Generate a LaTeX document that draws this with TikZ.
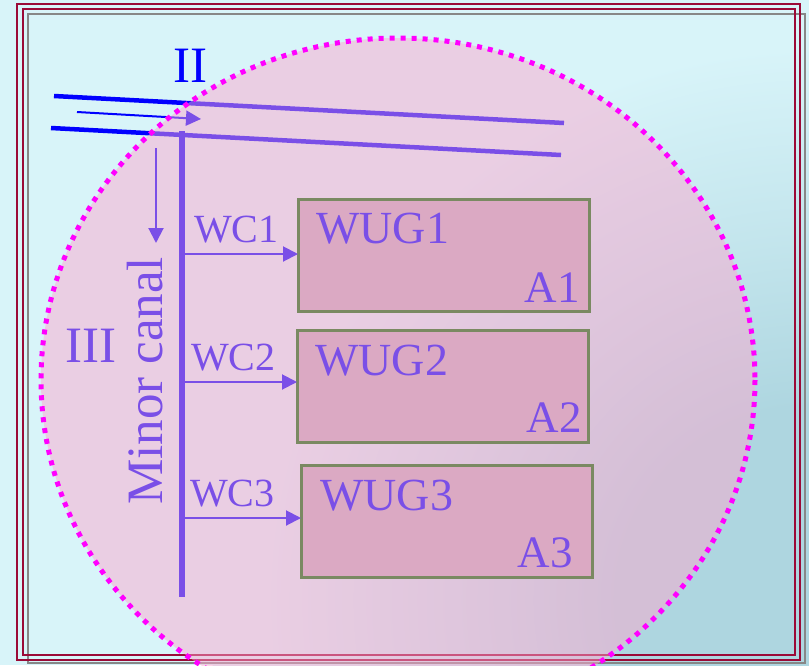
\documentclass[tikz,border=0pt]{standalone}
\usepackage{fontspec}
\setmainfont{Liberation Serif}
\usetikzlibrary{arrows.meta}

\definecolor{bglight}{RGB}{216,244,249}
\definecolor{bgdark}{RGB}{174,214,224}
\definecolor{framered}{RGB}{155,10,55}
\definecolor{frameshadow}{RGB}{135,135,135}
\definecolor{inkblue}{RGB}{0,0,255}
\definecolor{wugfill}{RGB}{186,173,187}
\definecolor{wugedge}{RGB}{0,112,0}
\definecolor{zonepink}{RGB}{255,166,205}
\definecolor{zonedots}{RGB}{255,0,255}

% soft darkening towards the lower right corner
\pgfdeclareradialshading{cornerglow}{\pgfpoint{0bp}{0bp}}{%
  color(0bp)=(bgdark); color(8bp)=(bgdark); color(15bp)=(bgdark!50!bglight);
  color(23bp)=(bglight); color(50bp)=(bglight)}

\begin{document}
\begin{tikzpicture}[x=1pt,y=-1pt,
  canalline/.style={draw=inkblue, line width=4.5pt},
  flow/.style={draw=inkblue, line width=2pt, -{Triangle[length=15pt,width=15pt]}},
  wug/.style={draw=wugedge, fill=wugfill, line width=3pt, inner sep=0pt,
              outer sep=0pt, anchor=north west},
  lbl/.style={text=inkblue, inner sep=0pt},
  small/.style={font=\fontsize{40}{40}\selectfont},
  medium/.style={font=\fontsize{45}{45}\selectfont},
  wugsize/.style={font=\fontsize{46}{46}\selectfont},
  large/.style={font=\fontsize{51}{51}\selectfont},
  framebox/.style={draw=framered, line width=2pt}]

\useasboundingbox (0,0) rectangle (809,665);

% background
\fill[bglight] (0,0) rectangle (809,665);
\begin{scope}
  \clip (0,0) rectangle (809,665);
  \shade[shading=cornerglow] (809,600) circle [radius=600];
\end{scope}

% frame
\draw[frameshadow, line width=1.5pt] (28,14) rectangle (805,663);
\draw[framebox] (17,4) rectangle (800,660);
\draw[framebox] (23,9) rectangle (795,655);

% main canal (two banks) and flow direction
\coordinate (b1w) at (54,96);
\coordinate (b1e) at (564,123);
\coordinate (b2w) at (51,128);
\coordinate (b2e) at (561,155);
\coordinate (fw) at (77,112);
\coordinate (fe) at (201,119);
\draw[canalline] (b1w) -- (b1e);
\draw[canalline] (b2w) -- (b2e);
\draw[flow] (fw) -- (fe);

% minor canal
\coordinate (mtop) at (182,131);
\coordinate (mbot) at (182,597);
\draw[draw=inkblue, line width=5.5pt] (mtop) -- (mbot);
\coordinate (dtop) at (156,148);
\coordinate (dbot) at (156,243);
\draw[flow] (dtop) -- (dbot);

% water user groups
\node[wug, minimum width=291pt, minimum height=112pt] (g1) at (298,199) {};
\node[wug, minimum width=291pt, minimum height=112pt] (g2) at (297,330) {};
\node[wug, minimum width=291pt, minimum height=112pt] (g3) at (301,465) {};

% watercourses
\coordinate (w1) at (185,254);
\coordinate (w2) at (185,382);
\coordinate (w3) at (185,518);
\draw[flow] (w1) -- (w1 -| g1.west);
\draw[flow] (w2) -- (w2 -| g2.west);
\draw[flow] (w3) -- (w3 -| g3.west);

% labels
\node[lbl, large, anchor=base] (zII) at (190,82) {II};
\node[lbl, large, anchor=base] (zIII) at (91,362) {III};
\node[lbl, large, rotate=90, anchor=base west] (mc) at (162,505) {Minor canal};
\node[lbl, small, anchor=base west] (wc1) at (194,242) {WC1};
\node[lbl, small, anchor=base west] (wc2) at (191,370) {WC2};
\node[lbl, small, anchor=base west] (wc3) at (190,506) {WC3};
\node[lbl, wugsize, anchor=base west] (t1) at (316,243) {WUG1};
\node[lbl, wugsize, anchor=base west] (t2) at (315,375) {WUG2};
\node[lbl, wugsize, anchor=base west] (t3) at (320,510) {WUG3};
\node[lbl, medium, anchor=base east] (a1) at (580,302) {A1};
\node[lbl, medium, anchor=base east] (a2) at (582,432) {A2};
\node[lbl, medium, anchor=base east] (a3) at (573,567) {A3};

% command area
\fill[zonepink, fill opacity=0.48] (398,380) ellipse [x radius=357, y radius=342];
\draw[zonedots, line width=5pt, dash pattern=on 5pt off 6pt]
  (398,380) ellipse [x radius=357, y radius=342];
\end{tikzpicture}
\end{document}
